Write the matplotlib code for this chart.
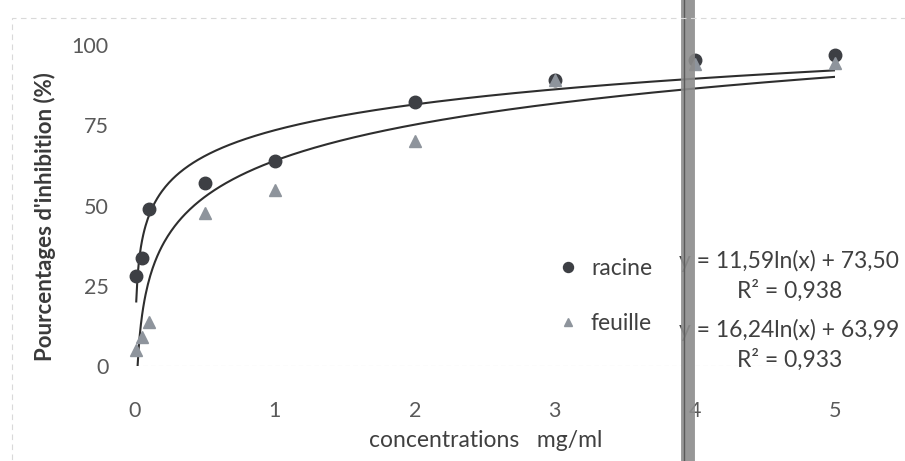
"""
Inhibition percentage vs concentration for root (racine) and leaf (feuille)
extracts, with logarithmic trendlines as printed on the original chart.
"""
import matplotlib.pyplot as plt
import numpy as np
from matplotlib.patches import Rectangle

plt.rcParams["font.family"] = ["Lato", "DejaVu Sans"]

conc = [0.01, 0.05, 0.1, 0.5, 1, 2, 3, 4, 5]
racine = [28.0, 33.7, 48.8, 56.9, 64.0, 82.2, 89.0, 95.5, 96.8]
feuille = [5.0, 9.1, 13.8, 47.6, 55.0, 70.0, 89.3, 94.0, 94.5]

# trendline coefficients as printed (y = a ln(x) + b)
fit_racine = (11.59, 73.50, "0,938")
fit_feuille = (16.24, 63.99, "0,933")

xticks = [0, 1, 2, 3, 4, 5]
yticks = [0, 25, 50, 75, 100]

fig = plt.figure(figsize=(9.05, 4.61), dpi=100)
ax = fig.add_axes([0.149, 0.206, 0.7735, 0.696])

xs = np.linspace(min(conc), max(conc), 600)
for a, b, _ in (fit_racine, fit_feuille):
    ax.plot(xs, a * np.log(xs) + b, color="#2e2e2e", lw=1.5, zorder=2)

ax.plot(conc, racine, "o", color="#3d3f44", ms=9, clip_on=False, zorder=3,
        label="racine")
ax.plot(conc, feuille, "^", color="#8e949c", ms=8, clip_on=False, zorder=3,
        label="feuille")

ax.set_xlim(0, 5)
ax.set_ylim(0, 100)
ax.set_xticks(xticks)
ax.set_yticks(yticks)
for s in ax.spines.values():
    s.set_visible(False)
ax.tick_params(length=0, labelsize=15.5, labelcolor="#595959")
ax.tick_params(axis="x", pad=25)
ax.tick_params(axis="y", pad=19)
ax.axhline(0, color="#cfcfcf", lw=0.8, ls=(0, (4, 3)), zorder=1)

ax.set_xlabel("concentrations   mg/ml", fontsize=16.5, color="#404040")
ax.xaxis.set_label_coords(0.501, -0.2)
fig.text(45 / 905, 1 - 217 / 461, "Pourcentages d'inhibition (%)",
         rotation=90, ha="center", va="center", fontsize=16,
         fontweight="bold", color="#3a3a3a")

# legend and trendline labels
ax.legend(loc="center left", bbox_to_anchor=(2.93, 21.8),
          bbox_transform=ax.transData, frameon=False, fontsize=16.5,
          labelcolor="#404040", handletextpad=0.0, handlelength=2.0,
          labelspacing=1.45, markerscale=0.8, borderaxespad=0, borderpad=0)
for (a, b, r2), y_eq, y_r2 in ((fit_racine, 32.6, 23.4), (fit_feuille, 11.3, 2.0)):
    ax.text(3.89, y_eq, f"y = {a:.2f}ln(x) + {b:.2f}".replace(".", ","),
            fontsize=16.5, color="#404040", ha="left", va="center")
    ax.text(4.68, y_r2, f"R² = {r2}", fontsize=16.5, color="#404040",
            ha="center", va="center")

# scan artefacts: faint dashed chart frame and a vertical grey band
fig.patches.append(Rectangle((12 / 905, -0.1), 1.2, 1.1 - 18 / 461,
                             transform=fig.transFigure, fill=False,
                             edgecolor="#d9d9d9", lw=0.8, ls=(0, (5, 4))))
ax.axvline(3.95, ymin=-0.4, ymax=1.2, color="#8c8c8c", lw=10, clip_on=False,
           alpha=0.9, zorder=4)
ax.axvline(3.925, ymin=-0.4, ymax=1.2, color="#5a5a5a", lw=1.0, clip_on=False,
           zorder=4)

fig.savefig("out.png", dpi=100)
